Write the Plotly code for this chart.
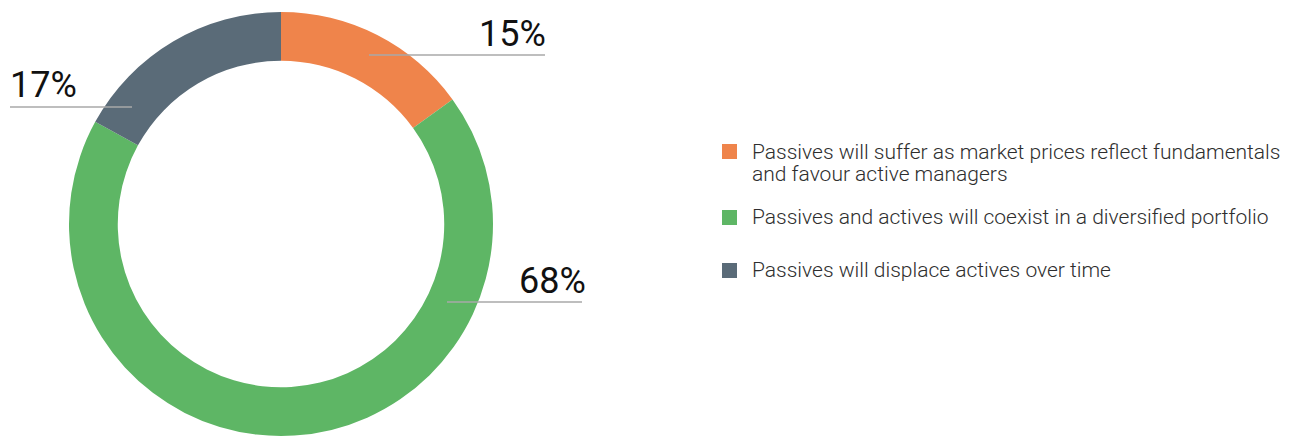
import plotly.graph_objects as go

# Survey responses on the future of passive vs. active investing
labels = [
    "Passives will suffer as market prices reflect fundamentals<br>and favour active managers",
    "Passives and actives will coexist in a diversified portfolio",
    "Passives will displace actives over time",
]
values = [15, 68, 17]
colors = ["#EF844B", "#5EB665", "#5A6B78"]

W, H = 1293, 438

fig = go.Figure(
    go.Pie(
        labels=labels,
        values=values,
        marker=dict(colors=colors, line=dict(width=0)),
        hole=0.77,
        sort=False,
        direction="clockwise",
        rotation=0,
        textinfo="none",
        hoverinfo="label+percent",
        showlegend=False,
        domain=dict(x=[67 / W, 495 / W], y=[2 / H, 426 / H]),
    )
)

def px(x):
    return x / W

def py(y):
    return 1 - y / H

# Percentage callouts with underline leader lines (pixel positions)
callouts = [
    dict(tx=548, ty=57, x0=369, x1=545, ly=55, anchor="right"),
    dict(tx=588, ty=304, x0=447, x1=582, ly=302, anchor="right"),
    dict(tx=8, ty=108, x0=10, x1=132, ly=107, anchor="left"),
]

shapes = []
annotations = []
for v, c in zip(values, callouts):
    shapes.append(dict(
        type="line", xref="paper", yref="paper",
        x0=px(c["x0"]), x1=px(c["x1"]), y0=py(c["ly"]), y1=py(c["ly"]),
        line=dict(color="#A8A8A8", width=1.5),
    ))
    annotations.append(dict(
        text=f"{v}%", xref="paper", yref="paper",
        x=px(c["tx"]), y=py(c["ty"]),
        xanchor=c["anchor"], yanchor="bottom", showarrow=False,
        font=dict(family="Roboto", size=36, color="#111111", weight=400),
    ))

# Legend drawn as swatches plus text; each text line placed by its baseline
swatch_tops = [144, 210, 263]
line_baselines = [[160, 182], [225], [278]]
LEG_SIZE = 21
for lab, col, sy, bases in zip(labels, colors, swatch_tops, line_baselines):
    shapes.append(dict(
        type="rect", xref="paper", yref="paper",
        x0=px(722), x1=px(737), y0=py(sy + 15), y1=py(sy),
        fillcolor=col, line=dict(width=0),
    ))
    for line, base in zip(lab.split("<br>"), bases):
        annotations.append(dict(
            text=line, xref="paper", yref="paper",
            x=px(750), y=py(base - 22), xanchor="left", yanchor="top",
            align="left", showarrow=False,
            font=dict(family="Roboto", size=LEG_SIZE, color="#2e2e2e", weight=300),
        ))

fig.update_layout(
    width=W, height=H,
    margin=dict(l=0, r=0, t=0, b=0),
    paper_bgcolor="white",
    plot_bgcolor="white",
    shapes=shapes,
    annotations=annotations,
)

fig.write_html("out.html")
